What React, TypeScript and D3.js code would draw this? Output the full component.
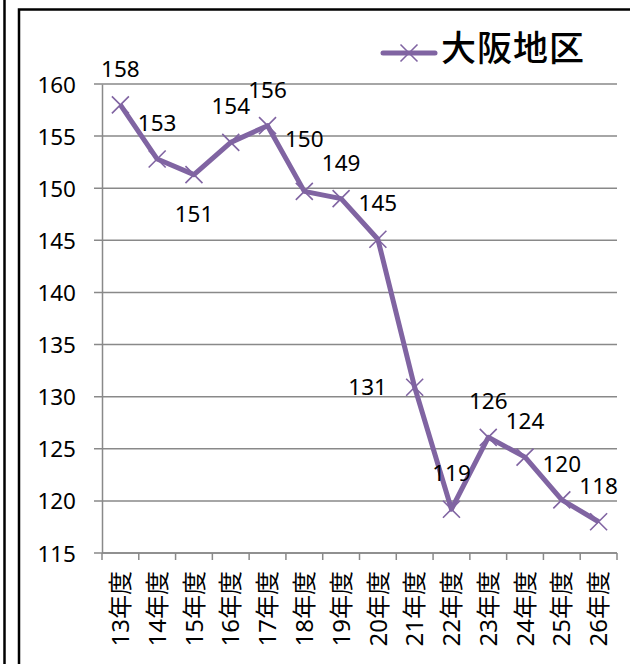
import * as d3 from "d3";
import { useEffect, useRef } from "react";

const seriesName = "大阪地区";
const categories = [
	"13年度", "14年度", "15年度", "16年度", "17年度", "18年度", "19年度",
	"20年度", "21年度", "22年度", "23年度", "24年度", "25年度", "26年度",
];
const values = [158, 152.8, 151.3, 154.4, 156.0, 149.7, 149.0, 145.1, 130.9, 119.2, 126.1, 124.2, 120.1, 118.0];
const valueLabels = ["158", "153", "151", "154", "156", "150", "149", "145", "131", "119", "126", "124", "120", "118"];
const yTicks = [115, 120, 125, 130, 135, 140, 145, 150, 155, 160];
// where each data label sits relative to its point
const labelPlacement = [
	"above", "above", "below", "above", "above", "high", "above",
	"above", "left", "above", "above", "above", "above", "above",
];

const PURPLE = "#8064a2";
const GRID = "#898989";
const FONT = "'Noto Sans', 'Noto Sans CJK JP', sans-serif";

function App() {
	const ref = useRef<SVGSVGElement>(null);

	function drawChart() {
		const svg = d3.select(ref.current);
		svg.selectAll("*").remove();

		const width = 630;
		const height = 664;
		const plot = { left: 102, right: 617, top: 84, bottom: 553 };

		svg.attr("width", width).attr("height", height);

		// outer frames
		svg.append("line")
			.attr("x1", 4.5).attr("x2", 4.5)
			.attr("y1", 0).attr("y2", height)
			.attr("stroke", "#000").attr("stroke-width", 2.5);
		svg.append("path")
			.attr("d", `M19,${height} V9.5 H${width}`)
			.attr("fill", "none")
			.attr("stroke", "#000").attr("stroke-width", 2.5);

		const xScale = d3.scaleBand().domain(categories).range([plot.left, plot.right]);
		const yScale = d3.scaleLinear().domain([115, 160]).range([plot.bottom, plot.top]);
		const cx = (i: number) => (xScale(categories[i]) || 0) + xScale.bandwidth() / 2;

		// horizontal gridlines
		svg.append("g")
			.selectAll("line")
			.data(yTicks)
			.enter()
			.append("line")
			.attr("x1", plot.left - 8)
			.attr("x2", plot.right)
			.attr("y1", (d) => yScale(d))
			.attr("y2", (d) => yScale(d))
			.attr("stroke", GRID)
			.attr("stroke-width", 1.5);

		// y axis
		const yAxis = d3.axisLeft(yScale).tickValues(yTicks).tickSize(0).tickPadding(26);
		const yg = svg.append("g").attr("transform", `translate(${plot.left},0)`).call(yAxis);
		yg.select(".domain").attr("stroke", GRID).attr("stroke-width", 1.5);
		yg.selectAll("text")
			.attr("font-family", FONT)
			.attr("font-size", 22.5)
			.attr("fill", "#000")
			.attr("dy", "0.36em");

		// x axis with ticks between categories
		const xg = svg.append("g");
		xg.append("line")
			.attr("x1", plot.left).attr("x2", plot.right)
			.attr("y1", plot.bottom).attr("y2", plot.bottom)
			.attr("stroke", GRID).attr("stroke-width", 1.5);
		const bounds = categories.map((c) => xScale(c) || 0).concat([plot.right]);
		xg.selectAll(".xtick")
			.data(bounds)
			.enter()
			.append("line")
			.attr("x1", (d) => d).attr("x2", (d) => d)
			.attr("y1", plot.bottom).attr("y2", plot.bottom + 7)
			.attr("stroke", GRID).attr("stroke-width", 1.5);
		xg.selectAll(".xlabel")
			.data(categories)
			.enter()
			.append("text")
			.attr("transform", (d, i) => `translate(${cx(i)},${plot.bottom + 18}) rotate(-90)`)
			.attr("text-anchor", "end")
			.attr("dy", "0.36em")
			.attr("font-family", FONT)
			.attr("font-size", 24)
			.attr("fill", "#000")
			.text((d) => d);

		// series line
		const line = d3
			.line<number>()
			.x((d, i) => cx(i))
			.y((d) => yScale(d));
		svg.append("path")
			.datum(values)
			.attr("d", line)
			.attr("fill", "none")
			.attr("stroke", PURPLE)
			.attr("stroke-width", 5)
			.attr("stroke-linejoin", "round");

		// x markers
		const m = 8.5;
		svg.append("g")
			.selectAll("path")
			.data(values)
			.enter()
			.append("path")
			.attr("d", (d, i) => {
				const x = cx(i);
				const y = yScale(d);
				return `M${x - m},${y - m}L${x + m},${y + m}M${x - m},${y + m}L${x + m},${y - m}`;
			})
			.attr("stroke", PURPLE)
			.attr("stroke-width", 1.6);

		// data labels
		svg.append("g")
			.selectAll("text")
			.data(values)
			.enter()
			.append("text")
			.attr("x", (d, i) => (labelPlacement[i] === "left" ? cx(i) - 47 : cx(i)))
			.attr("y", (d, i) => {
				const p = labelPlacement[i];
				const y = yScale(d);
				if (p === "below") return y + 39;
				if (p === "high") return y - 52;
				if (p === "left") return y;
				return y - 36;
			})
			.attr("dy", "0.36em")
			.attr("text-anchor", "middle")
			.attr("font-family", FONT)
			.attr("font-size", 22.5)
			.attr("fill", "#000")
			.text((d, i) => valueLabels[i]);

		// legend
		const lg = svg.append("g").attr("transform", "translate(383,53)");
		lg.append("line")
			.attr("x1", 0).attr("x2", 52)
			.attr("y1", 0).attr("y2", 0)
			.attr("stroke", PURPLE).attr("stroke-width", 5)
			.attr("stroke-linecap", "round");
		lg.append("path")
			.attr("d", `M${26 - m},${-m}L${26 + m},${m}M${26 - m},${m}L${26 + m},${-m}`)
			.attr("stroke", PURPLE).attr("stroke-width", 1.6);
		lg.append("text")
			.attr("x", 58)
			.attr("y", -5)
			.attr("dy", "0.36em")
			.attr("font-family", "'Noto Sans CJK JP', sans-serif")
			.attr("font-size", 35)
			.attr("font-weight", 500)
			.attr("letter-spacing", 1)
			.attr("fill", "#000")
			.text(seriesName);
	}

	useEffect(() => {
		drawChart();
	}, []);

	return <svg ref={ref} style={{ position: "absolute", left: 0, top: 0 }}></svg>;
}

export default App;
